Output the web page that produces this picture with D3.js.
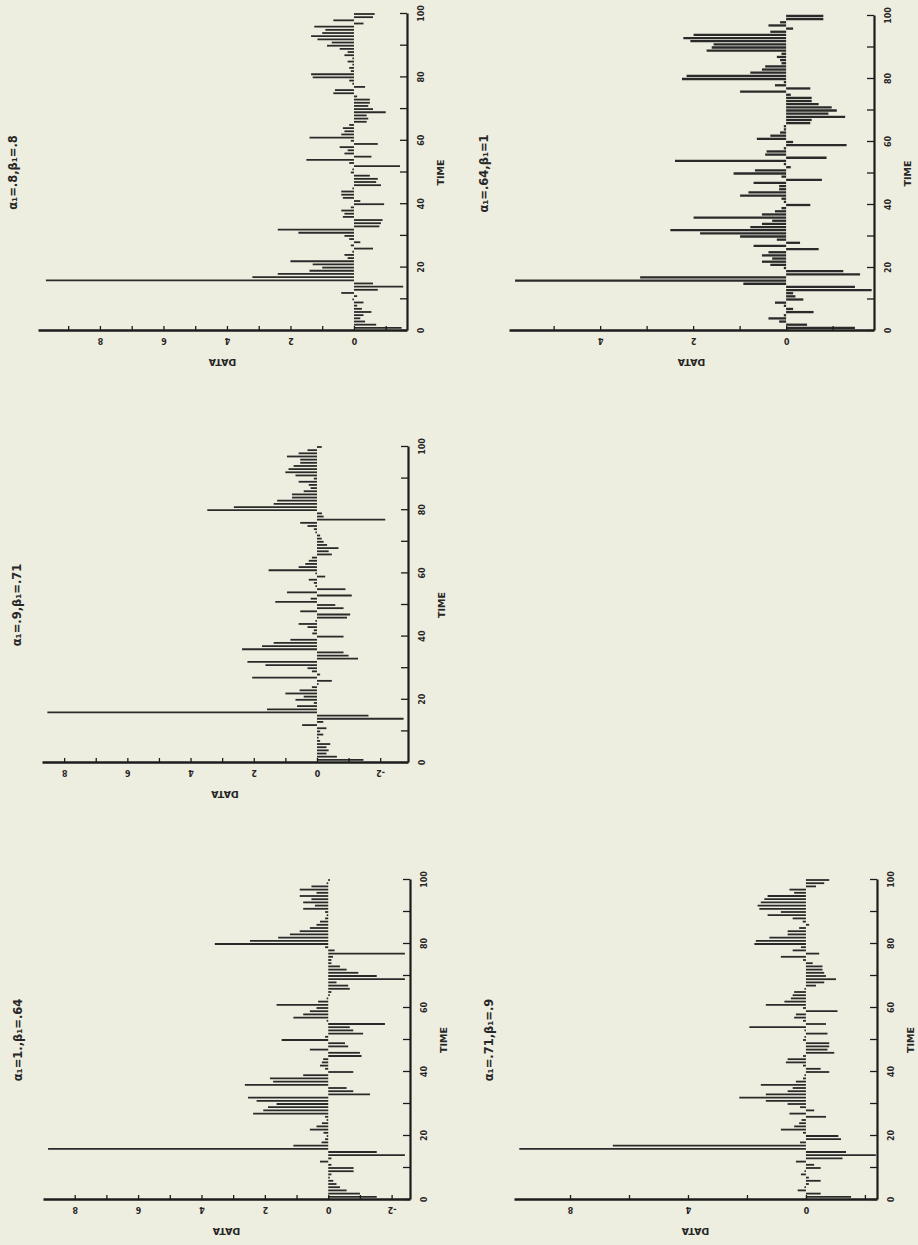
<!DOCTYPE html>
<html>
<head>
<meta charset="utf-8">
<script src="https://cdn.jsdelivr.net/npm/d3@7"></script>
<style>
  html, body { margin: 0; padding: 0; background: #eeeee0; }
  svg { display: block; }
  text { font-family: "DejaVu Sans", "Liberation Sans", sans-serif; fill: #262626; font-weight: bold; }
</style>
</head>
<body>
<svg id="chart" width="918" height="1245"></svg>
<script>
// ---- data ---------------------------------------------------------------
const time = d3.range(1, 101);               // t = 1..100
const timeTicks = d3.range(0, 101, 10);
const timeTickLabels = [0, 20, 40, 60, 80, 100];

const titles = ["α₁=.8,β₁=.8", "α₁=.9,β₁=.71", "α₁=1.,β₁=.64", "α₁=.64,β₁=1", "α₁=.71,β₁=.9"];

const seriesA = [
  -1.5, -0.7, -0.35, -0.2, -0.3, -0.55, -0.25, -0.1, -0.3, 0.05,
  -0.1, 0.4, -0.75, -1.55, -0.6, 9.7, 3.2, 2.4, 1.4, 1.0,
  1.3, 2.0, 0.2, 0.3, 0.05, -0.6, 0.1, -0.2, 0.15, 0.3,
  1.75, 2.4, -0.8, -0.85, -0.9, 0.35, 0.3, 0.4, 0.1, -0.95,
  -0.2, 0.35, 0.4, 0.4, 0.05, -0.85, -0.7, -0.75, -0.5, 0.1,
  0.05, -1.45, 0.15, 1.5, -0.55, 0.3, 0.2, 0.45, -0.75, 0.1,
  1.4, 0.4, 0.3, 0.35, 0.15, -0.4, -0.45, -0.4, -1.0, -0.6,
  -0.45, -0.5, -0.5, -0.1, 0.65, 0.6, -0.35, 0.05, 0.15, 1.3,
  1.35, 0.1, 0.15, 0.05, 0.2, 0.05, 0.3, 0.2, 0.45, 0.85,
  0.7, 1.15, 1.35, 1.0, 0.9, 1.25, -0.3, 0.65, -0.6, -0.65
];
const seriesB = [
  -1.47, -0.63, -0.3, -0.37, -0.3, -0.42, -0.1, -0.05, -0.2, -0.1,
  -0.3, 0.47, -0.2, -2.74, -1.63, 8.53, 1.58, 0.63, 0.1, 0.68,
  0.42, 1.0, 0.55, 0.16, -0.05, -0.47, 2.05, -0.1, 0.16, 0.3,
  1.63, 2.2, -1.3, -1.0, -0.84, 2.37, 1.74, 1.37, 0.84, -0.84,
  0.15, 0.1, 0.3, 0.58, 0.05, -0.95, -1.05, 0.53, -0.84, -0.58,
  1.32, 0.2, -1.1, 0.95, -0.9, 0.05, 0.1, 0.26, -0.26, 0.05,
  1.53, 0.58, 0.37, 0.26, 0.16, -0.47, -0.37, -0.68, -0.32, -0.21,
  -0.15, -0.1, 0.05, 0.1, 0.3, 0.53, -2.16, -0.21, -0.16, 3.47,
  2.63, 1.37, 1.26, 0.79, 0.79, 0.42, 0.2, 0.26, 0.58, 0.1,
  0.68, 1.0, 0.9, 0.74, 0.53, 0.53, 0.95, 0.58, 0.3, -0.15
];
const seriesC = [
  -1.53, -1.0, -0.58, -0.37, -0.26, -0.16, -0.05, -0.1, -0.8, -0.8,
  -0.1, 0.26, -0.1, -2.42, -1.53, 8.84, 1.1, 0.21, 0.1, 0.05,
  0.15, 0.58, 0.37, 0.2, 0.05, 0.1, 2.37, 2.05, 1.9, 1.63,
  2.26, 2.53, -1.32, -0.79, -0.58, 2.63, 1.74, 1.84, 0.79, -0.79,
  0.1, 0.26, 0.2, 0.16, -1.05, -1.0, 0.58, -0.63, -0.53, 1.47,
  0.1, -1.1, -0.79, -0.68, -1.79, 0.05, 1.1, 0.79, 0.58, 0.37,
  1.63, 0.32, 0.05, -0.05, -0.1, -0.68, -0.63, -0.26, -2.42, -1.53,
  -0.95, -0.58, -0.37, -0.1, -0.1, -0.15, -2.42, -0.2, 0.1, 3.58,
  2.47, 1.58, 1.21, 0.9, 0.58, 0.37, 0.26, 0.1, 0.05, 0.1,
  0.79, 0.42, 0.79, 0.53, 0.9, 0.37, 0.9, 0.53, 0.05, -0.05
];
const seriesD = [
  -1.48, -0.45, 0.15, 0.38, 0.05, -0.59, -0.15, 0.05, 0.24, -0.37,
  -0.2, -0.15, -1.84, -1.48, 0.92, 5.83, 3.14, -1.59, -1.23, 0.05,
  0.34, 0.52, 0.3, 0.52, 0.38, -0.7, 0.7, -0.3, 0.2, 0.99,
  1.85, 2.49, 0.77, 0.52, 0.3, 1.99, 0.52, 0.24, 0.1, -0.52,
  0.05, 0.1, 0.99, 0.81, 0.15, 0.15, 0.7, -0.77, 0.1, 1.13,
  0.67, -0.1, 0.05, 2.39, -0.87, 0.45, 0.42, 0.05, -1.3, -0.15,
  0.63, 0.34, 0.13, 0.05, 0.05, -0.52, -0.55, -1.27, -0.91, -1.09,
  -0.98, -0.7, -0.55, -0.55, -0.1, 0.99, -0.52, 0.24, 0.05, 2.24,
  2.14, 0.77, 0.52, 0.45, 0.1, 0.13, 0.2, 0.1, 1.71, 1.6,
  1.56, 2.06, 2.21, 1.99, 0.34, -0.15, 0.38, 0.13, -0.8, -0.8
];
const seriesE = [
  -1.53, -0.5, 0.28, 0.05, -0.1, -0.5, -0.1, 0.17, 0.05, -0.5,
  -0.28, 0.34, -1.24, -2.37, -1.36, 9.72, 6.55, 0.2, -1.19, -1.1,
  0.1, 0.85, 0.4, 0.23, 0.15, -0.68, 0.56, -0.28, 0.2, 0.62,
  1.36, 2.26, 1.36, 0.62, 0.45, 1.53, 0.34, 0.1, 0.05, -0.79,
  -0.5, 0.1, 0.68, 0.62, 0.1, -0.96, -0.73, -0.79, -0.79, 0.1,
  0.05, -0.73, 0.05, 1.92, -0.68, 0.1, 0.4, 0.34, -1.07, 0.1,
  1.36, 0.73, 0.51, 0.45, 0.4, 0.05, -0.34, -0.62, -1.02, -0.68,
  -0.62, -0.56, -0.56, -0.23, 0.1, 0.85, -0.45, 0.45, 0.17, 1.75,
  1.7, 1.24, 0.62, 0.62, 0.23, -0.11, 0.11, 0.45, 1.3, 0.85,
  1.58, 1.64, 1.53, 1.41, 1.3, 0.4, 0.56, -0.34, -0.62, -0.79
];

// DATA axis extent, ticks and labelled ticks for each panel
const dataDomains = [[-1.67, 9.95], [-2.88, 8.70], [-2.58, 9.0], [-1.89, 5.96], [-2.41, 9.9]];
const dataTicks = [d3.range(-1, 10), d3.range(-2, 9), d3.range(-2, 9), d3.range(-1, 6), d3.range(-2, 9, 2)];
const dataTickLabels = [[0, 2, 4, 6, 8], [-2, 0, 2, 4, 6, 8], [-2, 0, 2, 4, 6, 8], [0, 2, 4], [0, 4, 8]];
const seriesList = [seriesA, seriesB, seriesC, seriesD, seriesE];

// ---- layout -------------------------------------------------------------
// Each plot is drawn in its own frame (time across, data up) and the frame
// is turned a quarter turn counter-clockwise onto the sheet.
// x,y: sheet position of the data-axis top end / time origin; w: time length; h: data length
const frames = [
  { x: 38,  y: 331,  w: 317, h: 369, bar: 1.8 },
  { x: 42,  y: 763,  w: 316, h: 366, bar: 1.8 },
  { x: 43,  y: 1200, w: 320, h: 367, bar: 1.8 },
  { x: 509, y: 331,  w: 315, h: 365, bar: 2.3 },
  { x: 514, y: 1200, w: 320, h: 363, bar: 1.8 }
];

const svg = d3.select("#chart");
svg.append("rect").attr("width", 918).attr("height", 1245).attr("fill", "#eeeee0");

frames.forEach((f, i) => {
  const g = svg.append("g")
    .attr("transform", `translate(${f.x},${f.y}) rotate(-90)`);

  const xs = d3.scaleLinear().domain([0, 100]).range([0, f.w]);
  const ys = d3.scaleLinear().domain(dataDomains[i]).range([f.h, 0]);
  const values = seriesList[i];

  // needle bars from zero to each value
  g.append("g")
    .selectAll("line")
    .data(time)
    .join("line")
    .attr("x1", t => xs(t)).attr("x2", t => xs(t))
    .attr("y1", ys(0))
    .attr("y2", t => ys(values[t - 1]))
    .attr("stroke", "#2a2a2a")
    .attr("stroke-width", f.bar);

  // TIME axis along the bottom, ticks pointing inward
  const xAxis = g.append("g")
    .attr("transform", `translate(0,${f.h})`)
    .call(d3.axisBottom(xs)
      .tickValues(timeTicks)
      .tickSizeInner(-7).tickSizeOuter(0).tickPadding(11)
      .tickFormat(d => timeTickLabels.includes(d) ? d : ""));
  xAxis.select(".domain").attr("stroke", "#1c1c1c").attr("stroke-width", 2.2);
  xAxis.selectAll(".tick line").attr("stroke", "#1c1c1c").attr("stroke-width", 1.3);
  xAxis.selectAll(".tick text")
    .attr("fill", "#262626").style("font-size", "8px").style("font-family", "DejaVu Sans, sans-serif")
    .style("font-weight", "bold");

  // DATA axis along the left, ticks pointing inward, labels written along the axis
  const yAxis = g.append("g")
    .call(d3.axisLeft(ys)
      .tickValues(dataTicks[i])
      .tickSizeInner(-5).tickSizeOuter(0)
      .tickFormat(d => dataTickLabels[i].includes(d) ? d : ""));
  yAxis.select(".domain").attr("stroke", "#1c1c1c").attr("stroke-width", 2.4);
  yAxis.selectAll(".tick line").attr("stroke", "#1c1c1c").attr("stroke-width", 1.3);
  yAxis.selectAll(".tick text")
    .attr("x", 0).attr("y", -7).attr("dy", null)
    .attr("transform", "rotate(-90)")
    .attr("text-anchor", "middle")
    .attr("fill", "#262626").style("font-size", "8px").style("font-family", "DejaVu Sans, sans-serif")
    .style("font-weight", "bold");

  // axis titles
  g.append("text")
    .attr("transform", `translate(${f.w / 2},${f.h + 37})`)
    .attr("text-anchor", "middle")
    .style("font-size", "9.5px")
    .text("TIME");
  g.append("text")
    .attr("transform", `translate(-28,${f.h / 2}) rotate(-90)`)
    .attr("text-anchor", "middle")
    .style("font-size", "9.5px")
    .text("DATA");

  // panel title above the plot
  g.append("text")
    .attr("transform", `translate(${f.w / 2},-21)`)
    .attr("text-anchor", "middle")
    .style("font-size", "11.5px")
    .text(titles[i]);
});
</script>
</body>
</html>
